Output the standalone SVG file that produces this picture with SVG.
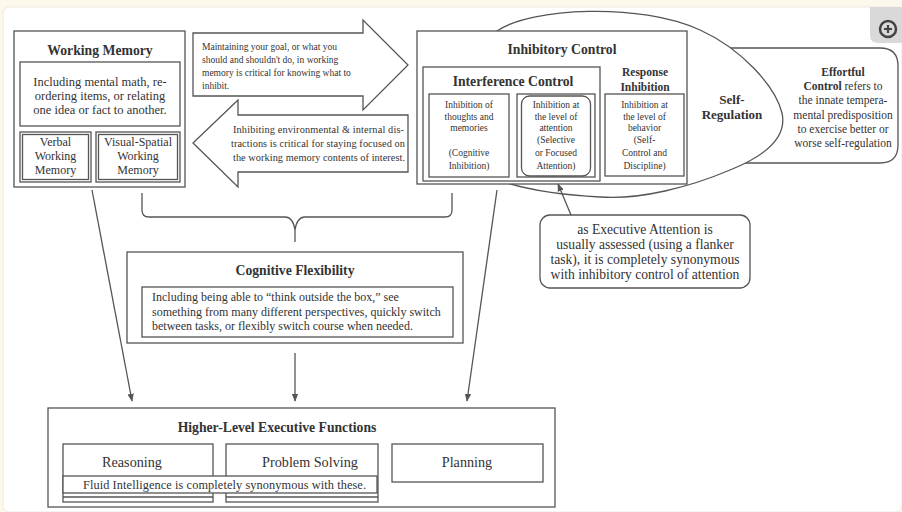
<svg xmlns="http://www.w3.org/2000/svg" width="902" height="512" viewBox="0 0 902 512">
<defs>
<style>
text{font-family:"Liberation Serif","DejaVu Serif",serif;fill:#333}
.b{fill:none;stroke:#555;stroke-width:1.3}
.w{fill:#fff;stroke:#555;stroke-width:1.3}
.t{font-weight:bold;font-size:13.7px;text-anchor:middle}
.m{text-anchor:middle}
.s{font-size:12px}
.xs{font-size:9.5px}
.e{font-size:11.5px;text-anchor:middle}
.ea{font-size:13.6px;text-anchor:middle}
.h{font-size:14.2px;text-anchor:middle}
.c{fill:none;stroke:#555;stroke-width:1.3}
</style>
<marker id="ah" viewBox="0 0 10 10" refX="9" refY="5" markerWidth="8" markerHeight="8" orient="auto" markerUnits="userSpaceOnUse">
<path d="M0,1 L10,5 L0,9 Z" fill="#555"/>
</marker>
</defs>
<rect x="0" y="0" width="902" height="512" fill="#fcf8ec"/>
<rect x="3" y="7" width="899" height="505" rx="6" fill="#fff" stroke="#ebe8e0"/>
<g id="zoom-icon">
<path d="M870,7 H902 V43 H878 Q870,43 870,35 Z" fill="#d9d9d9"/>
<circle cx="888" cy="29" r="8" fill="none" stroke="#444" stroke-width="2.5"/>
<path d="M884,29 H892 M888,25 V33" stroke="#444" stroke-width="2.2"/>
</g>

<g id="effortful-control">
<path class="w" d="M700,48 H880 Q898,48 898,66 V145 Q898,163 880,163 H700 Z"/>
<text class="e" x="843" y="76" font-weight="bold">Effortful</text>
<text class="e" x="843" y="90"><tspan font-weight="bold">Control</tspan> refers to</text>
<text class="e" x="843" y="104">the innate tempera-</text>
<text class="e" x="843" y="119">mental predisposition</text>
<text class="e" x="843" y="133">to exercise better or</text>
<text class="e" x="843" y="147">worse self-regulation</text>
</g>

<g id="self-regulation">
<path class="w" d="M497,31 C530,8 640,2 700,30 C740,48 775,85 782,113 C788,140 760,158 730,170 C690,187 640,200 600,197 C560,195 530,190 507,183 Z"/>
<text class="m" x="732" y="104" font-size="13" font-weight="bold">Self-</text>
<text class="m" x="732" y="119" font-size="13" font-weight="bold">Regulation</text>
</g>

<g id="working-memory">
<rect class="w" x="14" y="31" width="171" height="156"/>
<text class="t" x="100" y="55" font-size="13.3">Working Memory</text>
<rect class="b" x="20" y="62" width="160" height="64"/>
<text class="m" x="100" y="86" font-size="12.5">Including mental math, re-</text>
<text class="m" x="100" y="100" font-size="12.5">ordering items, or relating</text>
<text class="m" x="100" y="114" font-size="12.5">one idea or fact to another.</text>
<rect class="b" x="20" y="132" width="71" height="50"/>
<rect class="b" x="22.5" y="134.5" width="66" height="45" stroke-width="0.9"/>
<text class="m s" x="55.5" y="146">Verbal</text>
<text class="m s" x="55.5" y="160">Working</text>
<text class="m s" x="55.5" y="174">Memory</text>
<rect class="b" x="96" y="132" width="84" height="50"/>
<rect class="b" x="98.5" y="134.5" width="79" height="45" stroke-width="0.9"/>
<text class="m s" x="138" y="146">Visual-Spatial</text>
<text class="m s" x="138" y="160">Working</text>
<text class="m s" x="138" y="174">Memory</text>
</g>

<g id="arrow-wm-to-ic">
<polygon class="w" points="193,33 363,33 363,20 408,65 363,110 363,96 193,96"/>
<text class="xs" x="202" y="50">Maintaining your goal, or what you</text>
<text class="xs" x="202" y="63">should and shouldn't do, in working</text>
<text class="xs" x="202" y="76">memory is critical for knowing what to</text>
<text class="xs" x="202" y="89">inhibit.</text>
</g>

<g id="arrow-ic-to-wm">
<polygon class="w" points="408,115 238,115 238,100 193,143 238,187 238,172 408,172"/>
<text font-size="10.3" x="233" y="133" textLength="171">Inhibiting environmental &amp; internal dis-</text>
<text font-size="10.3" x="231" y="147" textLength="174">tractions is critical for staying focused on</text>
<text font-size="10.3" x="233" y="161" textLength="172">the working memory contents of interest.</text>
</g>

<g id="inhibitory-control">
<rect class="w" x="417" y="31" width="270" height="153"/>
<text class="t" x="562" y="54" font-size="14">Inhibitory Control</text>
<rect class="b" x="423" y="67" width="177" height="114"/>
<text class="t" x="513" y="86">Interference Control</text>
<rect class="b" x="429" y="94" width="80" height="83"/>
<text class="m xs" x="469" y="108">Inhibition of</text>
<text class="m xs" x="469" y="120">thoughts and</text>
<text class="m xs" x="469" y="131">memories</text>
<text class="m xs" x="469" y="156">(Cognitive</text>
<text class="m xs" x="469" y="169">Inhibition)</text>
<rect class="b" x="517" y="94" width="78" height="83"/>
<rect class="b" x="521.5" y="96" width="69" height="80" rx="8"/>
<text class="m xs" x="556" y="108">Inhibition at</text>
<text class="m xs" x="556" y="120">the level of</text>
<text class="m xs" x="556" y="131">attention</text>
<text class="m xs" x="556" y="143">(Selective</text>
<text class="m xs" x="556" y="156">or Focused</text>
<text class="m xs" x="556" y="169">Attention)</text>
<text class="m" x="645" y="76" font-size="11.5" font-weight="bold">Response</text>
<text class="m" x="645" y="91" font-size="11.5" font-weight="bold">Inhibition</text>
<rect class="b" x="605" y="94" width="79" height="82"/>
<text class="m xs" x="644.5" y="108">Inhibition at</text>
<text class="m xs" x="644.5" y="120">the level of</text>
<text class="m xs" x="644.5" y="131">behavior</text>
<text class="m xs" x="644.5" y="143">(Self-</text>
<text class="m xs" x="644.5" y="156">Control and</text>
<text class="m xs" x="644.5" y="169">Discipline)</text>
</g>

<g id="executive-attention">
<rect class="w" x="540" y="215" width="210" height="73" rx="10"/>
<text class="ea" x="645" y="234">as Executive Attention is</text>
<text class="ea" x="645" y="249">usually assessed (using a flanker</text>
<text class="ea" x="645" y="264">task), it is completely synonymous</text>
<text class="ea" x="645" y="279">with inhibitory control of attention</text>
</g>

<g id="cognitive-flexibility">
<rect class="w" x="127" y="252" width="336" height="91"/>
<text class="t" x="295" y="275">Cognitive Flexibility</text>
<rect class="b" x="142" y="287" width="311" height="50"/>
<text class="s" x="152" y="301">Including being able to “think outside the box,” see</text>
<text class="s" x="152" y="316">something from many different perspectives, quickly switch</text>
<text class="s" x="152" y="330">between tasks, or flexibly switch course when needed.</text>
</g>

<g id="higher-level">
<rect class="w" x="48" y="408" width="507" height="99"/>
<text class="t" x="277" y="432">Higher-Level Executive Functions</text>
<rect class="b" x="63" y="444" width="150" height="58"/>
<line class="b" x1="63" y1="497" x2="213" y2="497"/>
<text class="h" x="132" y="467">Reasoning</text>
<rect class="b" x="226" y="444" width="152" height="58"/>
<line class="b" x1="226" y1="497" x2="378" y2="497"/>
<text class="h" x="310" y="467">Problem Solving</text>
<rect class="b" x="392" y="444" width="151" height="38"/>
<text class="h" x="467" y="467">Planning</text>
<rect class="w" x="63" y="476" width="314" height="17"/>
<text x="83" y="489" font-size="12.3" textLength="283">Fluid Intelligence is completely synonymous with these.</text>
</g>

<g id="connectors">
<path class="c" d="M142,193 V210 Q142,217 149,217 H285 Q293,217 295,230 Q297,217 305,217 H445 Q452,217 452,210 V193"/>
<line class="c" x1="295" y1="230" x2="295" y2="242"/>
<line class="c" x1="92" y1="190" x2="132" y2="401" marker-end="url(#ah)"/>
<line class="c" x1="295" y1="353" x2="295" y2="401" marker-end="url(#ah)"/>
<line class="c" x1="497" y1="190" x2="467" y2="401" marker-end="url(#ah)"/>
<line class="c" x1="571" y1="215" x2="558" y2="184" marker-end="url(#ah)"/>
</g>
</svg>
